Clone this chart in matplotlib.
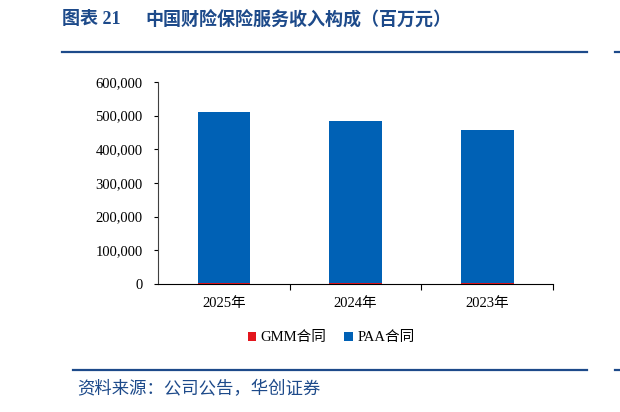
import matplotlib
matplotlib.use("Agg")
import matplotlib.pyplot as plt
from matplotlib.lines import Line2D
from matplotlib.ticker import FuncFormatter

plt.rcParams['font.family'] = ['Liberation Serif', 'Noto Sans CJK SC']

# data (百万元)
years = ["2025年", "2024年", "2023年"]
gmm = [2500, 4000, 3500]
paa = [509000, 481000, 453500]
series_names = ["GMM合同", "PAA合同"]

BLUE = "#0061b5"
RED = "#e3161d"
NAVY = "#1d4a8a"

W, H = 620, 412
fig = plt.figure(figsize=(W / 100, H / 100), dpi=100)

def fx(px):
    return px / W

def fy(py):
    return 1 - py / H

ax = fig.add_axes([fx(158), fy(284), fx(553) - fx(158), fy(82) - fy(284)])
x = range(len(years))
ax.bar(x, gmm, width=0.4, color=RED, label=series_names[0], zorder=2)
ax.bar(x, paa, width=0.4, bottom=gmm, color=BLUE, label=series_names[1], zorder=2)

ax.set_xlim(-0.5, 2.5)
ax.set_ylim(0, 600000)
ax.set_yticks(range(0, 600001, 100000))
ax.yaxis.set_major_formatter(FuncFormatter(lambda v, p: "{:,.0f}".format(v)))
ax.set_xticks([0.5, 1.5, 2.5])
ax.set_xticklabels([])
ax.set_xticks(list(x), minor=True)
ax.set_xticklabels(years, minor=True, fontsize=10.5)
ax.tick_params(axis='x', which='minor', length=0, pad=9)
ax.tick_params(axis='x', which='major', length=4, width=0.8, direction='out')
ax.tick_params(axis='y', length=3, width=0.8, labelsize=10.5, pad=8)
for s in ["top", "right"]:
    ax.spines[s].set_visible(False)
ax.spines["left"].set_color("#404040")
ax.spines["bottom"].set_color("black")

fig.legend(loc="center", bbox_to_anchor=(fx(331), fy(338)), ncol=2, frameon=False,
           fontsize=10.5, handlelength=0.6, handleheight=0.6, handletextpad=0.3,
           columnspacing=1.2)

# title and rules
fig.text(fx(62), fy(20), "图表 21", fontsize=13, fontweight='bold', color=NAVY,
         va='center', family=['Liberation Serif', 'Noto Sans CJK SC'])
fig.text(fx(145), fy(20), "中国财险保险服务收入构成（百万元）", fontsize=13,
         fontweight='bold', color=NAVY, va='center', family=['Noto Sans CJK SC'])
fig.add_artist(Line2D([fx(62), fx(587)], [fy(52), fy(52)], color=NAVY, lw=1.6))
fig.add_artist(Line2D([fx(615), fx(620)], [fy(52), fy(52)], color=NAVY, lw=1.6))
fig.add_artist(Line2D([fx(73), fx(587)], [fy(370), fy(370)], color=NAVY, lw=1.6))
fig.add_artist(Line2D([fx(615), fx(620)], [fy(370), fy(370)], color=NAVY, lw=1.6))

fig.text(fx(77), fy(389), "资料来源：公司公告，华创证券", fontsize=12.5, style='italic',
         color=NAVY, va='center', family=['Noto Sans CJK SC'])

fig.savefig("out.png", dpi=100)
